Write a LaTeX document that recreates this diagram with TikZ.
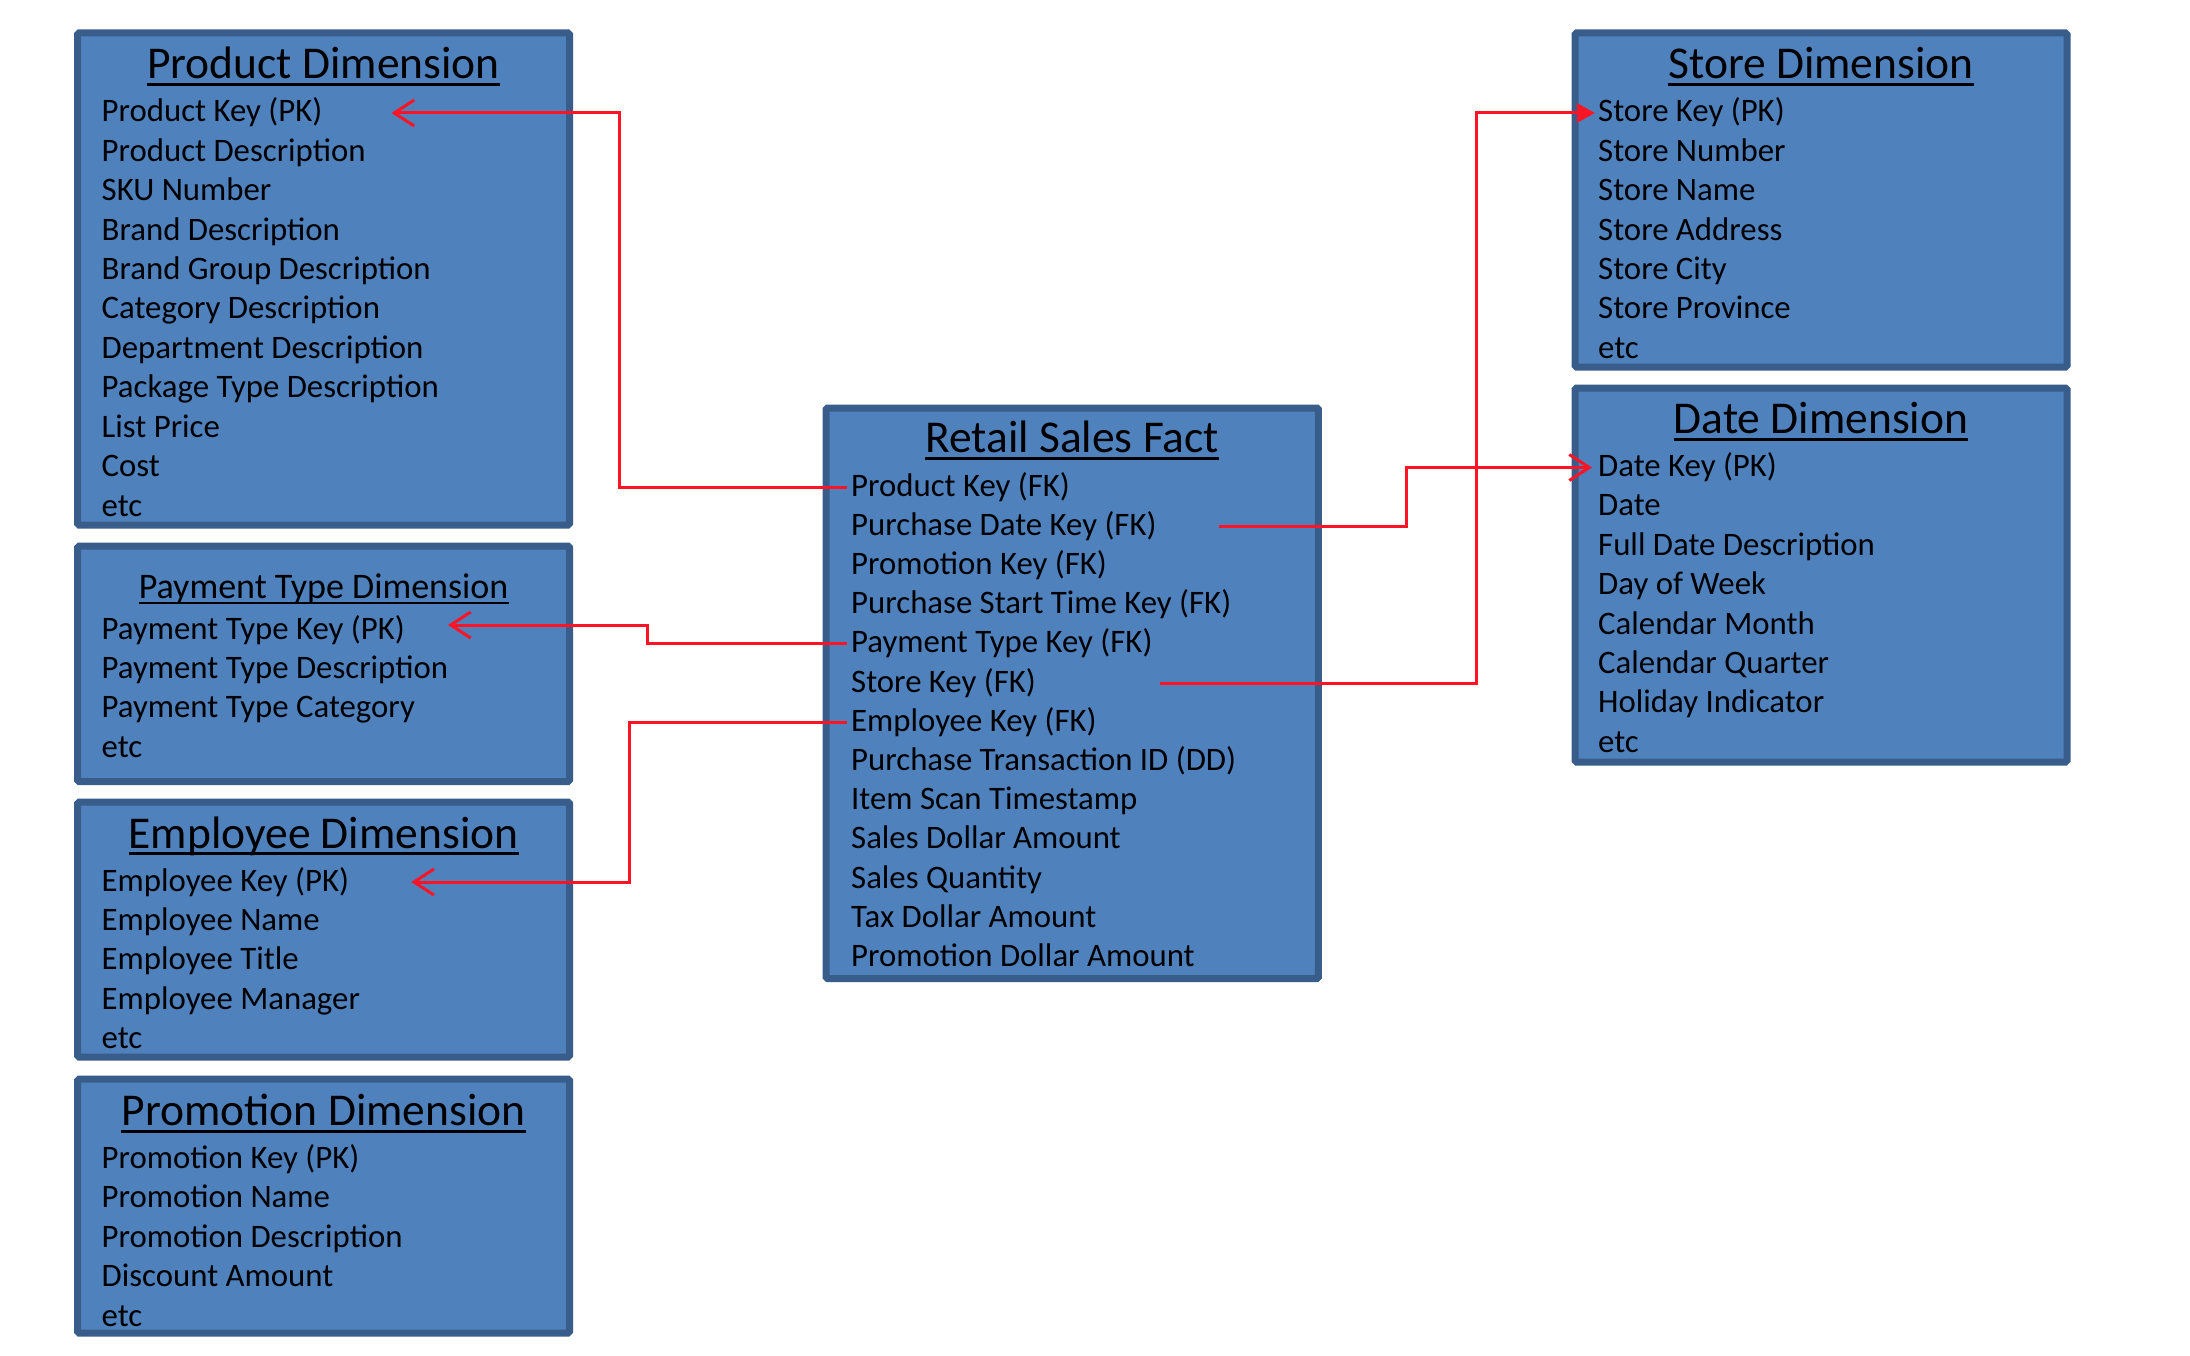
\documentclass[tikz,border=0pt]{standalone}
\usepackage{fontspec}
\setmainfont{Carlito}
\usetikzlibrary{arrows.meta}
\definecolor{boxfill}{HTML}{4F81BD}
\definecolor{boxline}{HTML}{385D8A}
\definecolor{fkred}{HTML}{FF1426}
\begin{document}
\begin{tikzpicture}[x=1pt,y=-1pt,
  box/.style={draw=boxline, fill=boxfill, line width=7pt, rounded corners=1.5pt, anchor=north west, inner sep=0pt, outer sep=0pt},
  row/.style={anchor=base west, inner sep=0pt, text height=24pt, text depth=6pt, font=\fontsize{32.8}{39}\selectfont},
  ttl/.style={anchor=base, inner sep=0pt, text depth=0pt, font=\fontsize{45.5}{50}\selectfont},
  ttlsmall/.style={anchor=base, inner sep=0pt, text depth=0pt, font=\fontsize{36}{40}\selectfont},
  uline/.style={line width=2.8pt, black},
  ulinesmall/.style={line width=2.4pt, black},
  fk/.style={draw=fkred, line width=3pt},
  barbtip/.style={-{Straight Barb[length=20pt,width=26pt]}},
  filltip/.style={-{Triangle[length=18pt,width=19pt]}}
]
\fill[white] (0,0) rectangle (2190,1356);
\useasboundingbox (0,0) rectangle (2190,1356);

% boxes
\node[box, minimum width=491.8pt, minimum height=492pt] (prodbox) at (77.7,33) {};
\node[box, minimum width=491.8pt, minimum height=235.5pt] (paybox) at (77.7,546) {};
\node[box, minimum width=491.8pt, minimum height=255pt] (empbox) at (77.7,802) {};
\node[box, minimum width=491.8pt, minimum height=254pt] (promobox) at (77.7,1079) {};
\node[box, minimum width=492.3pt, minimum height=570.5pt] (factbox) at (826,408) {};
\node[box, minimum width=492pt, minimum height=334pt] (storebox) at (1575,33) {};
\node[box, minimum width=492pt, minimum height=374pt] (datebox) at (1575,388) {};

% titles
\node[ttl] (prodT) at (323.6,78.5) {Product Dimension};
\node[ttlsmall] (payT) at (323.6,598) {Payment Type Dimension};
\node[ttl] (empT) at (323.6,848) {Employee Dimension};
\node[ttl] (promoT) at (323.6,1125.5) {Promotion Dimension};
\node[ttl] (factT) at (1072.2,452.5) {Retail Sales Fact};
\node[ttl] (storeT) at (1821,78.5) {Store Dimension};
\node[ttl] (dateT) at (1821,433.5) {Date Dimension};
\foreach \t in {prodT,empT,promoT,factT,storeT,dateT}
  \draw[uline] ([yshift=-5.5pt]\t.south west) -- ([yshift=-5.5pt]\t.south east);
\draw[ulinesmall] ([yshift=-4.5pt]payT.south west) -- ([yshift=-4.5pt]payT.south east);

% rows
\foreach \t [count=\i] in {Product Key (PK), Product Description, SKU Number, Brand Description, Brand Group Description, Category Description, Department Description, Package Type Description, List Price, Cost, etc}
  \node[row] (p\i) at (101.5,{122+(\i-1)*39.4}) {\t};
\foreach \t [count=\i] in {Payment Type Key (PK), Payment Type Description, Payment Type Category, etc}
  \node[row] (y\i) at (101.5,{639+(\i-1)*39.4}) {\t};
\foreach \t [count=\i] in {Employee Key (PK), Employee Name, Employee Title, Employee Manager, etc}
  \node[row] (e\i) at (101.5,{891+(\i-1)*39.4}) {\t};
\foreach \t [count=\i] in {Promotion Key (PK), Promotion Name, Promotion Description, Discount Amount, etc}
  \node[row] (m\i) at (101.5,{1168.5+(\i-1)*39.4}) {\t};
\foreach \t [count=\i] in {Product Key (FK), Purchase Date Key (FK), Promotion Key (FK), Purchase Start Time Key (FK), Payment Type Key (FK), Store Key (FK), Employee Key (FK), Purchase Transaction ID (DD), Item Scan Timestamp, Sales Dollar Amount, Sales Quantity, Tax Dollar Amount, Promotion Dollar Amount}
  \node[row] (f\i) at (851,{496+(\i-1)*39.2}) {\t};
\foreach \t [count=\i] in {Store Key (PK), Store Number, Store Name, Store Address, Store City, Store Province, etc}
  \node[row] (s\i) at (1598,{122+(\i-1)*39.4}) {\t};
\foreach \t [count=\i] in {Date Key (PK), Date, Full Date Description, Day of Week, Calendar Month, Calendar Quarter, Holiday Indicator, etc}
  \node[row] (d\i) at (1598,{476.5+(\i-1)*39.4}) {\t};

% connectors
\coordinate (cProd) at (619.5,0);
\coordinate (cPay) at (647.5,0);
\coordinate (cEmp) at (629,0);
\coordinate (cDate) at (1406.7,0);
\coordinate (cStore) at (1476.8,0);

\draw[fk, barbtip, shorten <=4pt, shorten >=69pt] (f1.west) -- (f1.west -| cProd) |- (p1.east);
\draw[fk, barbtip, shorten <=4pt, shorten >=43pt] (f5.west) -- (f5.west -| cPay) |- ([yshift=5pt]y1.east);
\draw[fk, barbtip, shorten <=4pt, shorten >=62pt] (f7.west) -- (f7.west -| cEmp) |- (e1.east);
\draw[fk, barbtip, shorten <=62pt, shorten >=6pt] (f2.east) -- (f2.east -| cDate) |- (d1.west);
\draw[fk, filltip, shorten <=124pt, shorten >=3pt] (f6.east) -- (f6.east -| cStore) |- (s1.west);
\end{tikzpicture}
\end{document}
